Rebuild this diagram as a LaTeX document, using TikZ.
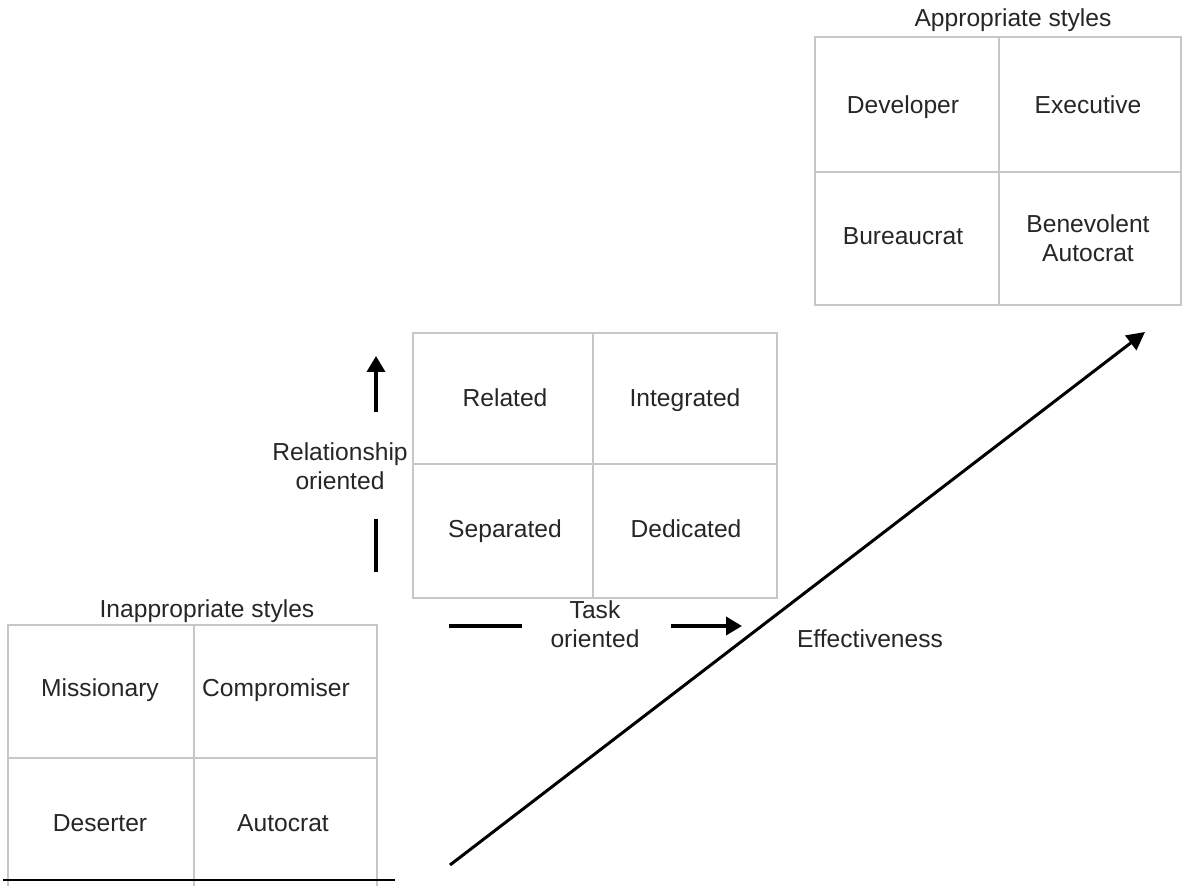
\documentclass[tikz,border=0pt]{standalone}
\usepackage{fontspec}
\setmainfont{Liberation Sans}
\usetikzlibrary{arrows.meta}

\begin{document}
\begin{tikzpicture}[x=0.5pt,y=-0.5pt,font=\fontsize{12.3}{14.5}\selectfont]
    \tikzstyle{label}=[text=black!85,align=center,inner sep=1pt]
    \tikzstyle{cell}=[label,text height=1.6ex,text depth=.4ex]
    \tikzstyle{grid line}=[draw=black!22,line width=0.6pt]
    \tikzstyle{axis bar}=[line width=1.8pt]
    \tikzstyle{axis arrow}=[axis bar,-{Triangle[length=8pt,width=9pt]}]
    \useasboundingbox (0,0) rectangle (1183,886);

    % Grids
    \draw[grid line] (815,37) rectangle (1181,305) (999,37)--(999,305) (815,172)--(1181,172);
    \draw[grid line] (413,333) rectangle (777,598) (593,333)--(593,598) (413,464)--(777,464);
    \draw[grid line] (8,886)--(8,625)--(377,625)--(377,886) (194,625)--(194,886) (8,758)--(377,758);

    \path
    % Appropriate styles
    (1013,20)  node[cell] (approp) {Appropriate styles}
    (903,107)  node[cell] (developer) {Developer}
    (1088,107) node[cell] (executive) {Executive}
    (903,238)  node[cell] (bureaucrat) {Bureaucrat}
    (1088,238) node[label] (benevolent) {Benevolent\\Autocrat}

    % Basic styles
    (505,400) node[cell] (related) {Related}
    (685,400) node[cell] (integrated) {Integrated}
    (505,531) node[cell] (separated) {Separated}
    (686,531) node[cell] (dedicated) {Dedicated}

    % Inappropriate styles
    (207,611) node[cell] (inapprop) {Inappropriate styles}
    (100,690) node[cell] (missionary) {Missionary}
    (276,690) node[cell] (compromiser) {Compromiser}
    (100,825) node[cell] (deserter) {Deserter}
    (283,825) node[cell] (autocrat) {Autocrat}

    % Axis labels
    (340,466) node[label] (relation) {Relationship\\oriented}
    (595,624) node[label] (task) {Task\\oriented}
    (870,641) node[cell] (effect) {Effectiveness};

    % Axis ends
    \coordinate (relation low) at (376,572);
    \coordinate (relation mid low) at (376,519);
    \coordinate (relation mid high) at (376,412);
    \coordinate (relation high) at (376,356);
    \coordinate (task low) at (449,626);
    \coordinate (task mid low) at (522,626);
    \coordinate (task mid high) at (671,626);
    \coordinate (task high) at (742,626);
    \coordinate (effect low) at (450,865);
    \coordinate (effect high) at (1145,332);
    \coordinate (rule left) at (3,880);
    \coordinate (rule right) at (395,880);

    % Arrows
    \draw[axis bar] (relation low)--(relation mid low);
    \draw[axis arrow] (relation mid high)--(relation high);
    \draw[axis bar] (task low)--(task mid low);
    \draw[axis arrow] (task mid high)--(task high);
    \draw[line width=1.5pt,-{Triangle[length=9pt,width=9pt]}] (effect low)--(effect high);
    \draw[line width=1pt] (rule left)--(rule right);
\end{tikzpicture}
\end{document}
